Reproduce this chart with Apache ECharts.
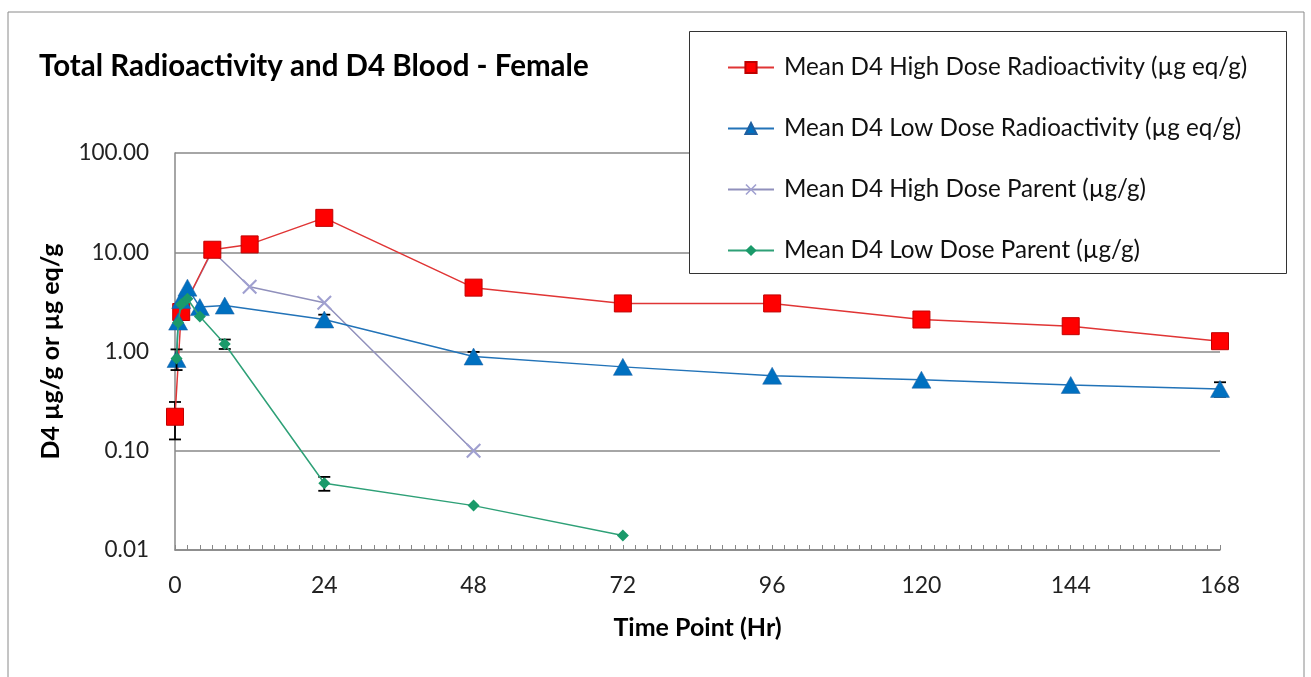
<!DOCTYPE html>
<html>
<head>
<meta charset="utf-8">
<script src="https://cdn.jsdelivr.net/npm/echarts@6/dist/echarts.min.js"></script>
<style>
html,body{margin:0;padding:0;background:#fff;}
#c{width:1311px;height:677px;}
</style>
</head>
<body>
<div id="c"></div>
<script>
// ---- data ----
const seriesNames = [
  'Mean D4 High Dose Radioactivity (µg eq/g)',
  'Mean D4 Low Dose Radioactivity (µg eq/g)',
  'Mean D4 High Dose Parent (µg/g)',
  'Mean D4 Low Dose Parent (µg/g)'
];
const hiRadT  = [0, 1, 6, 12, 24, 48, 72, 96, 120, 144, 168];
const hiRadV  = [0.22, 2.5, 10.6, 12.0, 22.2, 4.4, 3.05, 3.05, 2.1, 1.8, 1.27];
const hiRadSD = [0.09, 0, 0, 0, 0, 0, 0, 0, 0, 0, 0];

const loRadT  = [0.25, 0.5, 1, 2, 4, 8, 24, 48, 72, 96, 120, 144, 168];
const loRadV  = [0.84, 2.0, 3.3, 4.4, 2.8, 2.9, 2.1, 0.89, 0.7, 0.57, 0.52, 0.46, 0.42];
const loRadSD = [0, 0, 0, 0, 0, 0, 0.25, 0.1, 0, 0, 0, 0, 0.07];

const hiParT  = [1, 6, 12, 24, 48];
const hiParV  = [2.5, 10.3, 4.5, 3.1, 0.1];

const loParT  = [0.25, 0.5, 1, 2, 4, 8, 24, 48, 72];
const loParV  = [0.85, 1.95, 3.0, 3.4, 2.25, 1.19, 0.047, 0.028, 0.014];
const loParSD = [0.2, 0, 0, 0, 0, 0.13, 0.0075, 0, 0];

const xTicks = [0, 24, 48, 72, 96, 120, 144, 168];
const yTicks = [0.01, 0.1, 1, 10, 100];

// ---- build ----
function pairs(t, v) { return t.map((x, i) => [x, v[i]]); }
function errData(t, v, sd) {
  const out = [];
  t.forEach((x, i) => { if (sd[i] > 0) out.push([x, v[i] - sd[i], v[i] + sd[i]]); });
  return out;
}
function errSeries(data, z) {
  return {
    type: 'custom', z: z, silent: true, clip: false,
    data: data,
    encode: { x: 0, y: [1, 2] },
    renderItem: function (params, api) {
      const lo = api.coord([api.value(0), api.value(1)]);
      const hi = api.coord([api.value(0), api.value(2)]);
      const w = 6;
      const st = { stroke: '#000', lineWidth: 1.8 };
      return {
        type: 'group',
        children: [
          { type: 'line', shape: { x1: lo[0], y1: lo[1], x2: hi[0], y2: hi[1] }, style: st },
          { type: 'line', shape: { x1: lo[0] - w, y1: lo[1], x2: lo[0] + w, y2: lo[1] }, style: st },
          { type: 'line', shape: { x1: hi[0] - w, y1: hi[1], x2: hi[0] + w, y2: hi[1] }, style: st }
        ]
      };
    }
  };
}

const FONT = 'Lato';
const xSymbol = 'path://M0,1 L1,0 L5,4 L9,0 L10,1 L6,5 L10,9 L9,10 L5,6 L1,10 L0,9 L4,5 Z';

const chart = echarts.init(document.getElementById('c'), null, { renderer: 'canvas' });
chart.setOption({
  animation: false,
  backgroundColor: '#fff',
  textStyle: { fontFamily: FONT },
  title: {
    text: 'Total Radioactivity and D4 Blood - Female',
    left: 34, top: 46,
    textStyle: { fontFamily: FONT, fontWeight: 'bold', fontSize: 29.5, color: '#000' }
  },
  graphic: [
    { type: 'rect', shape: { x: 8, y: 12, width: 1296, height: 680 }, style: { fill: 'none', stroke: '#8a8a8a', lineWidth: 1 }, silent: true, z: -1 },
    { type: 'rect', shape: { x: 689.5, y: 31.5, width: 597, height: 242 }, style: { fill: '#fff', stroke: '#333', lineWidth: 1 }, silent: true, z: 5 }
  ],
  legend: {
    data: seriesNames,
    orient: 'vertical',
    left: 722, top: 50,
    itemWidth: 46, itemHeight: 14, itemGap: 36,
    z: 10,
    textStyle: { fontFamily: FONT, fontSize: 24.2, lineHeight: 25, color: '#111', padding: [0, 0, 0, 5] }
  },
  grid: { left: 175, right: 91, top: 153, bottom: 127, containLabel: false },
  xAxis: {
    type: 'value', min: 0, max: 168, interval: 2,
    name: 'Time Point (Hr)', nameLocation: 'middle', nameGap: 65,
    nameTextStyle: { fontFamily: FONT, fontWeight: 'bold', fontSize: 25, color: '#000' },
    axisLine: { show: true, lineStyle: { color: '#888', width: 1.5 } },
    axisTick: { show: true, inside: true, length: 5, lineStyle: { color: '#888', width: 1 } },
    axisLabel: {
      fontFamily: FONT, fontSize: 23, color: '#222', margin: 24,
      formatter: v => (xTicks.indexOf(v) >= 0 ? String(v) : '')
    },
    splitLine: { show: false }
  },
  yAxis: {
    type: 'log', logBase: 10, min: yTicks[0], max: yTicks[yTicks.length - 1],
    name: 'D4 µg/g or µg eq/g', nameLocation: 'middle', nameGap: 112, nameRotate: 90,
    nameTextStyle: { fontFamily: FONT, fontWeight: 'bold', fontSize: 25, color: '#000' },
    axisLine: { show: true, lineStyle: { color: '#888', width: 1.5 } },
    axisTick: { show: false },
    axisLabel: { fontFamily: FONT, fontSize: 22.5, color: '#222', margin: 26, formatter: v => Number(v).toFixed(2) },
    splitLine: { show: true, lineStyle: { color: '#888', width: 1.5 } }
  },
  series: [
    {
      name: seriesNames[0], type: 'line', z: 3, data: pairs(hiRadT, hiRadV),
      symbol: 'rect', symbolSize: 17,
      lineStyle: { color: '#E03535', width: 1.5 },
      itemStyle: { color: '#FF0000', borderColor: '#C00000', borderWidth: 1 }
    },
    errSeries(errData(hiRadT, hiRadV, hiRadSD), 2),
    {
      name: seriesNames[1], type: 'line', z: 4, data: pairs(loRadT, loRadV),
      symbol: 'triangle', symbolSize: [19, 17],
      lineStyle: { color: '#2273B8', width: 1.5 },
      itemStyle: { color: '#0070C0', borderColor: '#1F5FA0', borderWidth: 0.5 }
    },
    errSeries(errData(loRadT, loRadV, loRadSD), 3.5),
    {
      name: seriesNames[2], type: 'line', z: 2, data: pairs(hiParT, hiParV),
      symbol: xSymbol, symbolSize: 15,
      lineStyle: { color: '#9090BC', width: 1.5 },
      itemStyle: { color: '#A0A0D0' }
    },
    {
      name: seriesNames[3], type: 'line', z: 6, data: pairs(loParT, loParV),
      symbol: 'diamond', symbolSize: 12,
      lineStyle: { color: '#2EA077', width: 1.5 },
      itemStyle: { color: '#1A9A6A' }
    },
    errSeries(errData(loParT, loParV, loParSD), 5.5)
  ]
});
</script>
</body>
</html>
